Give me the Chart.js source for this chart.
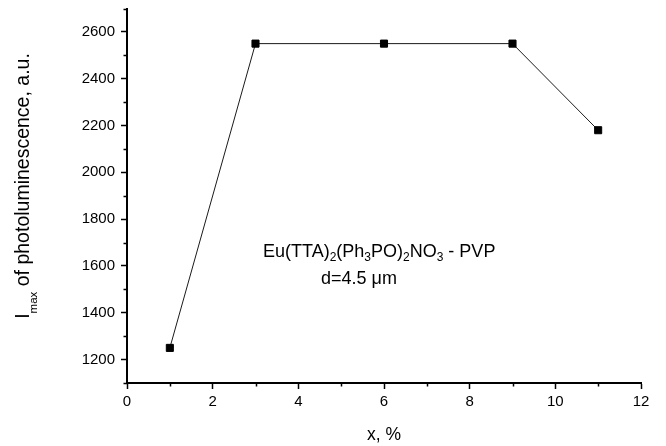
<!DOCTYPE html>
<html>
<head>
<meta charset="utf-8">
<script src="https://cdn.jsdelivr.net/npm/chart.js@4/dist/chart.umd.min.js"></script>
<style>
html,body{margin:0;padding:0;background:#fff;}
#wrap{width:666px;height:446px;}
</style>
</head>
<body>
<div id="wrap"><canvas id="c" width="666" height="446"></canvas></div>
<script>
// ---- data ----
const xValues = [1, 3, 6, 9, 11];
const yValues = [1250, 2550, 2550, 2550, 2180];
const xTicks = [0, 2, 4, 6, 8, 10, 12];
const yTicks = [1200, 1400, 1600, 1800, 2000, 2200, 2400, 2600];
const xMinorTicks = [1, 3, 5, 7, 9, 11];
const yMinorTicks = [1100, 1300, 1500, 1700, 1900, 2100, 2300, 2500, 2700];
const xTitle = 'x, %';
const yTitle = [{t:'I'}, {t:'max', sub:true}, {t:' of photoluminescence, a.u.'}];
const note1 = [{t:'Eu(TTA)'}, {t:'2', sub:true}, {t:'(Ph'}, {t:'3', sub:true}, {t:'PO)'}, {t:'2', sub:true}, {t:'NO'}, {t:'3', sub:true}, {t:' - PVP'}];
const note2 = [{t:'d=4.5 \u03BCm'}];

const FONT = '"Liberation Sans", Arial, Helvetica, sans-serif';

function drawRich(ctx, segs, x, y, size, subSize, subOff, measureOnly) {
  let cx = x;
  for (const s of segs) {
    ctx.font = (s.sub ? subSize : size) + 'px ' + FONT;
    if (!measureOnly) ctx.fillText(s.t, cx, y + (s.sub ? subOff : 0));
    cx += ctx.measureText(s.t).width;
  }
  return cx - x;
}

const extras = {
  id: 'extras',
  afterDraw(chart) {
    const ctx = chart.ctx;
    const xs = chart.scales.x, ys = chart.scales.y;
    const area = chart.chartArea;
    ctx.save();
    ctx.strokeStyle = '#000';
    ctx.lineWidth = 1.5;
    // minor ticks
    ctx.beginPath();
    for (const v of yMinorTicks) {
      const py = Math.round(ys.getPixelForValue(v)) + 0.5;
      ctx.moveTo(area.left, py); ctx.lineTo(area.left - 3.5, py);
    }
    for (const v of xMinorTicks) {
      const px = Math.round(xs.getPixelForValue(v)) + 0.5;
      ctx.moveTo(px, area.bottom); ctx.lineTo(px, area.bottom + 3.5);
    }
    ctx.stroke();

    ctx.fillStyle = '#000';
    ctx.textBaseline = 'alphabetic';
    ctx.textAlign = 'left';
    // x title
    ctx.font = '17.5px ' + FONT;
    const xw = ctx.measureText(xTitle).width;
    ctx.fillText(xTitle, (area.left + area.right) / 2 - xw / 2, 440);
    // y title (rotated)
    ctx.save();
    ctx.translate(29, 186);
    ctx.rotate(-Math.PI / 2);
    const yw = drawRich(ctx, yTitle, 0, 0, 19.5, 11.5, 8, true);
    drawRich(ctx, yTitle, -yw / 2, 0, 19.5, 11.5, 8, false);
    ctx.restore();
    // annotation
    drawRich(ctx, note1, 263, 257, 18, 12, 4, false);
    drawRich(ctx, note2, 321, 284, 18, 12, 4, false);
    ctx.restore();
  }
};

new Chart(document.getElementById('c'), {
  type: 'scatter',
  data: {
    datasets: [{
      data: xValues.map((x, i) => ({x: x, y: yValues[i]})),
      showLine: true,
      borderColor: '#1a1a1a',
      borderWidth: 1,
      pointStyle: 'rect',
      pointRadius: 5,
      pointBorderWidth: 1,
      pointBackgroundColor: '#000',
      pointBorderColor: '#000'
    }]
  },
  options: {
    responsive: false,
    animation: false,
    layout: {padding: {top: 8.5, right: 25, left: 0, bottom: 0}},
    plugins: {legend: {display: false}, tooltip: {enabled: false}},
    scales: {
      x: {
        type: 'linear', min: 0, max: 12,
        afterBuildTicks: s => { s.ticks = xTicks.map(v => ({value: v})); },
        afterFit: s => { s.height = 63; s.paddingLeft = 0; s.paddingRight = 0; },
        border: {display: true, color: '#000', width: 2},
        grid: {drawOnChartArea: false, drawTicks: true, tickLength: 6, tickWidth: 1.5, tickColor: '#000'},
        ticks: {color: '#000', font: {family: FONT, size: 15}, padding: 4, maxRotation: 0, callback: v => String(v)}
      },
      y: {
        type: 'linear', min: 1100, max: 2700,
        afterBuildTicks: s => { s.ticks = yTicks.map(v => ({value: v})); },
        afterFit: s => { s.width = 127; s.paddingTop = 0; s.paddingBottom = 0; },
        border: {display: true, color: '#000', width: 2},
        grid: {drawOnChartArea: false, drawTicks: true, tickLength: 6, tickWidth: 1.5, tickColor: '#000'},
        ticks: {color: '#000', font: {family: FONT, size: 15}, padding: 6, callback: v => String(v)}
      }
    }
  },
  plugins: [extras]
});
</script>
</body>
</html>
